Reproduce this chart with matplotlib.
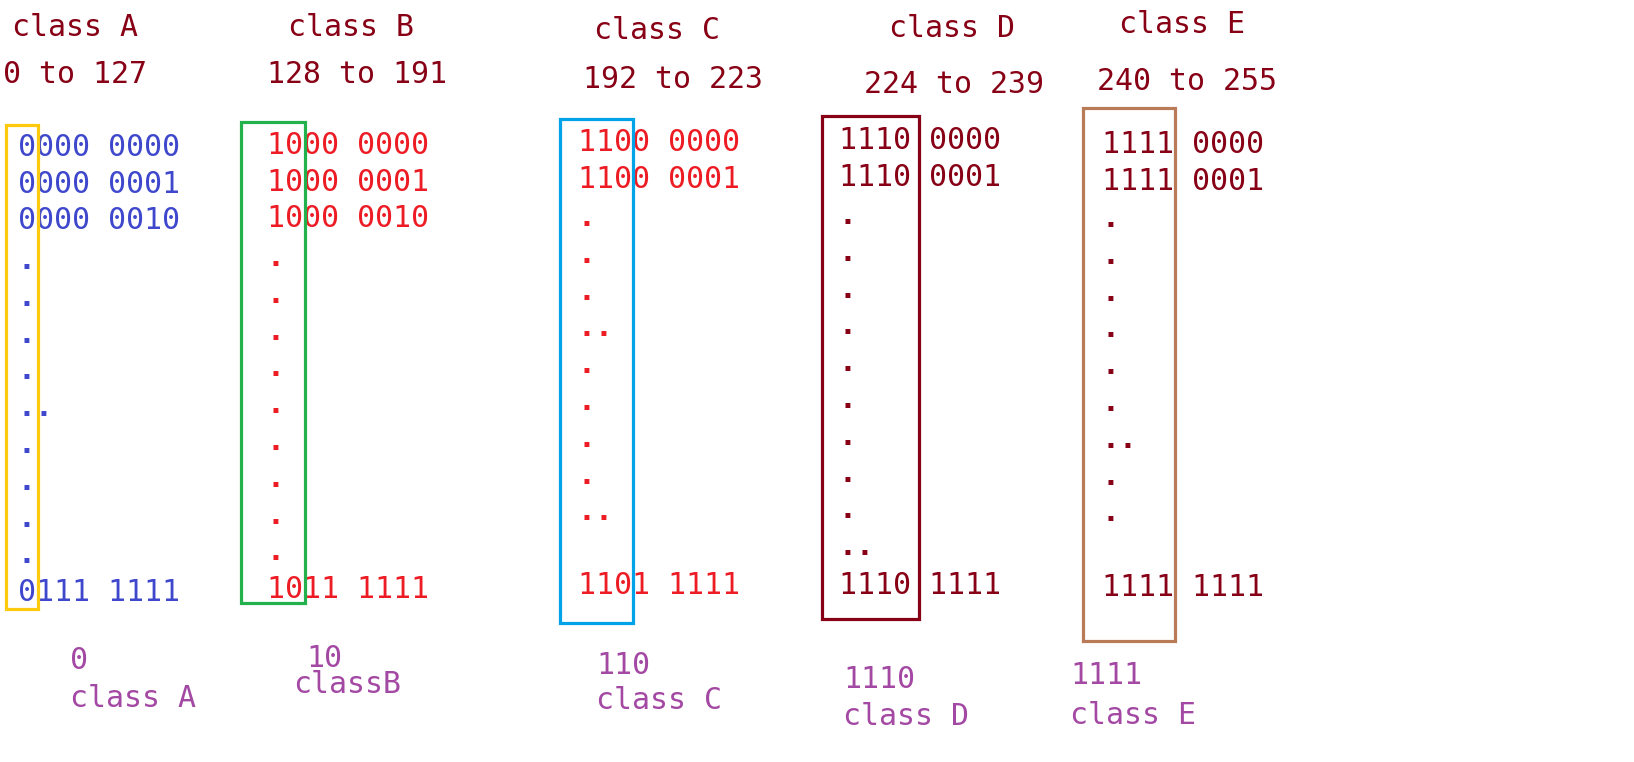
import matplotlib.pyplot as plt
from matplotlib.patches import Rectangle

# contenido del diagrama
clases = ['class A', 'class B', 'class C', 'class D', 'class E']
rangos = ['0 to 127', '128 to 191', '192 to 223', '224 to 239', '240 to 255']
filas_ini = [['0000 0000', '0000 0001', '0000 0010'],
             ['1000 0000', '1000 0001', '1000 0010'],
             ['1100 0000', '1100 0001'],
             ['1110 0000', '1110 0001'],
             ['1111 0000', '1111 0001']]
puntos = [['.', '.', '.', '.', '..', '.', '.', '.', '.'],
          ['.', '.', '.', '.', '.', '.', '.', '.', '.'],
          ['.', '.', '.', '..', '.', '.', '.', '.', '..'],
          ['.', '.', '.', '.', '.', '.', '.', '.', '.', '..'],
          ['.', '.', '.', '.', '.', '.', '..', '.', '.']]
filas_fin = ['0111 1111', '1011 1111', '1101 1111', '1110 1111', '1111 1111']
prefijos = ['0', '10', '110', '1110', '1111']
nombres = ['class A', 'classB', 'class C', 'class D', 'class E']

# colores (paleta de Paint)
c_titulo = '#880015'
c_bits = ['#3F48CC', '#ED1C24', '#ED1C24', '#880015', '#880015']
c_caja = ['#FFC90E', '#22B14C', '#00A2E8', '#880015', '#B97A57']
c_pie = '#A349A4'

# posiciones en pixeles (centro vertical del texto)
x_tit = [12, 288, 594, 889, 1119]
y_tit = [25, 25, 28, 26, 22]
x_rang = [3, 267, 583, 864, 1097]
y_rang = [72, 72, 77, 82, 79]
x_bits = [18, 267, 578, 839, 1102]
y_fila = [145, 143, 140, 138, 142]
y_punto = [265, 262, 222, 220, 223]
y_fin = [590, 587, 583, 583, 585]
cajas = [(6, 38, 125, 609), (241, 305, 122, 603), (560, 633, 119, 623),
         (822, 919, 116, 619), (1083, 1175, 108, 641)]
x_pie = [70, 293, 596, 843, 1070]
x_pref = [70, 306, 596, 843, 1070]
y_pref = [658, 656, 663, 677, 673]
y_nom = [696, 682, 698, 714, 713]
paso = 36.8

fs = 21.5
mitad = 0.729 * fs * 100 / 72 / 2   # media altura de mayusculas en px
fuente = 'DejaVu Sans Mono'

fig = plt.figure(figsize=(16.34, 7.62), dpi=100)
ax = fig.add_axes([0, 0, 1, 1])
ax.set_xlim(0, 1634)
ax.set_ylim(762, 0)
ax.axis('off')


def texto(x, y, s, color):
    ax.text(x, y + mitad, s, color=color, fontsize=fs, family=fuente,
            ha='left', va='baseline', zorder=2)


for i in range(5):
    texto(x_tit[i], y_tit[i], clases[i], c_titulo)
    texto(x_rang[i], y_rang[i], rangos[i], c_titulo)
    for j, s in enumerate(filas_ini[i]):
        texto(x_bits[i], y_fila[i] + j * paso, s, c_bits[i])
    for j, s in enumerate(puntos[i]):
        ax.text(x_bits[i], y_punto[i] + j * paso + 4, s, color=c_bits[i],
                fontsize=fs, family=fuente, fontweight='bold',
                ha='left', va='baseline')
    texto(x_bits[i], y_fin[i], filas_fin[i], c_bits[i])
    x0, x1, y0, y1 = cajas[i]
    ax.add_patch(Rectangle((x0, y0), x1 - x0, y1 - y0, fill=False,
                           edgecolor=c_caja[i], lw=2.3, zorder=3))
    texto(x_pref[i], y_pref[i], prefijos[i], c_pie)
    texto(x_pie[i], y_nom[i], nombres[i], c_pie)

fig.savefig('out.png', dpi=100, facecolor='white')
